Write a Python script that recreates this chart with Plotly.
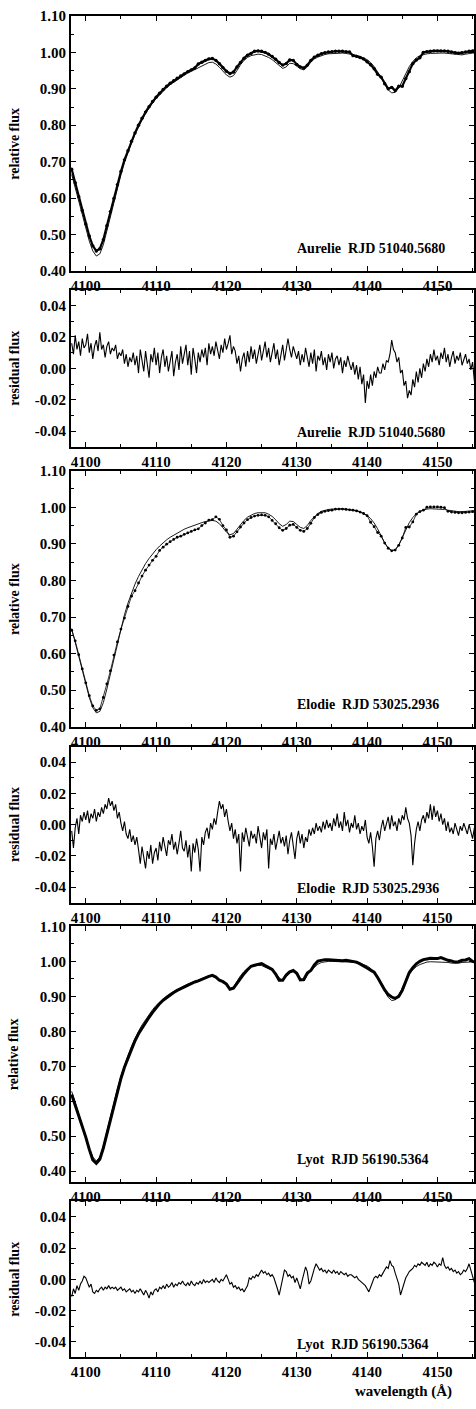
import numpy as np
import plotly.graph_objects as go

# ---------------- data ----------------
FLUX_WL_START, FLUX_WL_STEP = 4098.0, 0.5
RES_WL_START, RES_WL_STEP = 4098.0, 0.25

aurelie_model = [
    0.665, 0.628, 0.590, 0.552, 0.515, 0.482, 0.455, 0.441,
    0.447, 0.472, 0.510, 0.550, 0.590, 0.628, 0.664, 0.697,
    0.726, 0.752, 0.775, 0.796, 0.815, 0.832, 0.847, 0.861,
    0.873, 0.884, 0.894, 0.903, 0.911, 0.918, 0.925, 0.931,
    0.937, 0.943, 0.948, 0.953, 0.958, 0.963, 0.968, 0.972,
    0.973, 0.968, 0.959, 0.948, 0.938, 0.932, 0.936, 0.950,
    0.966, 0.978, 0.986, 0.991, 0.994, 0.995, 0.994, 0.991,
    0.986, 0.980, 0.972, 0.963, 0.956, 0.960, 0.970, 0.969,
    0.962, 0.955, 0.952, 0.960, 0.973, 0.982, 0.987, 0.991,
    0.994, 0.996, 0.997, 0.998, 0.998, 0.998, 0.997, 0.996,
    0.994, 0.992, 0.989, 0.985, 0.980, 0.972, 0.961, 0.946,
    0.929, 0.911, 0.897, 0.889, 0.890, 0.902, 0.921, 0.942,
    0.961, 0.975, 0.985, 0.991, 0.994, 0.996, 0.997, 0.998,
    0.998, 0.998, 0.998, 0.997, 0.995, 0.993, 0.992, 0.993,
    0.995, 0.997, 0.998, 0.998,
]
aurelie_obs = [
    0.679, 0.642, 0.604, 0.566, 0.529, 0.496, 0.469, 0.455,
    0.461, 0.486, 0.524, 0.563, 0.599, 0.637, 0.673, 0.705,
    0.730, 0.756, 0.779, 0.800, 0.819, 0.836, 0.851, 0.865,
    0.877, 0.888, 0.898, 0.907, 0.915, 0.922, 0.929, 0.935,
    0.941, 0.947, 0.952, 0.957, 0.968, 0.973, 0.978, 0.982,
    0.983, 0.978, 0.969, 0.958, 0.948, 0.942, 0.946, 0.960,
    0.972, 0.984, 0.992, 0.997, 1.003, 1.004, 1.003, 1.000,
    0.995, 0.989, 0.981, 0.972, 0.965, 0.969, 0.979, 0.978,
    0.967, 0.960, 0.957, 0.965, 0.978, 0.987, 0.992, 0.996,
    0.999, 1.001, 1.002, 1.003, 1.003, 1.003, 1.002, 1.001,
    0.991, 0.989, 0.986, 0.982, 0.974, 0.966, 0.955, 0.940,
    0.932, 0.914, 0.900, 0.904, 0.895, 0.907, 0.907, 0.928,
    0.947, 0.969, 0.979, 0.985, 1.000, 1.002, 1.003, 1.004,
    1.004, 1.004, 1.004, 1.003, 1.001, 0.999, 0.998, 0.999,
    1.001, 1.003, 1.004, 1.004,
]
aurelie_resid = [
    0.016, 0.009, 0.021, 0.012, 0.017, 0.008, 0.019, 0.013,
    0.015, 0.022, 0.010, 0.016, 0.006, 0.014, 0.018, 0.011,
    0.023, 0.012, 0.015, 0.007, 0.014, 0.017, 0.009, 0.013,
    0.011, 0.015, 0.006, 0.010, 0.008, 0.012, 0.003, 0.009,
    0.001, 0.007, 0.004, 0.010, 0.002, 0.008, -0.003, 0.012,
    0.005, -0.002, 0.011, 0.003, -0.006, 0.009, 0.004, 0.013,
    0.002, 0.010, -0.003, 0.007, 0.012, 0.001, 0.008, -0.002,
    0.006, 0.011, -0.005, 0.004, 0.009, -0.001, 0.014, 0.003,
    0.009, 0.015, 0.002, 0.011, -0.004, 0.013, 0.006, -0.003,
    0.010, 0.004, 0.012, 0.007, 0.013, 0.002, 0.016, 0.009,
    0.014, 0.008, 0.017, 0.011, 0.006, 0.015, 0.010, 0.019,
    0.012, 0.016, 0.021, 0.009, 0.014, 0.011, 0.003, 0.008,
    -0.002, 0.006, 0.010, 0.001, 0.011, 0.004, 0.014, 0.006,
    0.012, 0.003, 0.009, 0.015, 0.005, 0.011, 0.017, 0.007,
    0.013, 0.004, 0.010, 0.016, 0.006, 0.012, 0.002, 0.009,
    0.015, 0.005, 0.011, 0.019, 0.012, 0.007, 0.014, 0.010,
    0.006, 0.011, 0.002, 0.009, 0.004, 0.013, 0.007, 0.001,
    0.010, 0.003, 0.012, -0.002, 0.008, 0.005, 0.011, 0.002,
    0.007, -0.001, 0.009, 0.004, 0.010, 0.000, 0.006, 0.008,
    0.002, 0.007, -0.003, 0.005, 0.001, 0.008, 0.003, -0.001,
    0.004, -0.004, 0.002, -0.007, 0.001, -0.010, -0.004, -0.022,
    -0.008, -0.013, -0.004, -0.011, -0.002, -0.006, 0.001, -0.003,
    -0.003, 0.003, -0.001, 0.005, 0.004, 0.009, 0.018, 0.012,
    0.010, 0.004, 0.007, -0.003, -0.001, -0.011, -0.008, -0.019,
    -0.014, -0.017, -0.007, -0.012, -0.002, -0.009, 0.000, -0.006,
    0.003, -0.002, 0.006, 0.001, 0.009, 0.004, 0.012, 0.005,
    0.008, 0.002, 0.010, 0.006, 0.013, 0.004, 0.009, 0.001,
    0.007, 0.011, 0.003, 0.008, 0.005, 0.010, 0.002, 0.006,
    0.009, 0.003, 0.006, -0.001, 0.004, -0.008, 0.002, 0.005,
]

elodie_model = [
    0.668, 0.630, 0.592, 0.553, 0.515, 0.480, 0.452, 0.438,
    0.442, 0.466, 0.503, 0.545, 0.588, 0.630, 0.670, 0.706,
    0.738, 0.766, 0.790, 0.811, 0.830, 0.846, 0.860, 0.873,
    0.884, 0.894, 0.903, 0.911, 0.918, 0.924, 0.930, 0.935,
    0.940, 0.944, 0.948, 0.952, 0.955, 0.958, 0.961, 0.963,
    0.964, 0.962, 0.955, 0.944, 0.932, 0.925, 0.928, 0.940,
    0.953, 0.964, 0.973, 0.979, 0.983, 0.985, 0.986, 0.985,
    0.981, 0.975, 0.966, 0.955, 0.948, 0.953, 0.962, 0.961,
    0.953, 0.945, 0.942, 0.950, 0.964, 0.975, 0.983, 0.989,
    0.992, 0.994, 0.995, 0.996, 0.996, 0.996, 0.995, 0.994,
    0.993, 0.991, 0.988, 0.984, 0.978, 0.969, 0.957, 0.941,
    0.922, 0.903, 0.889, 0.882, 0.884, 0.897, 0.917, 0.939,
    0.958, 0.972, 0.982, 0.989, 0.993, 0.995, 0.996, 0.996,
    0.996, 0.995, 0.994, 0.992, 0.990, 0.989, 0.988, 0.988,
    0.989, 0.990, 0.991, 0.991,
]
elodie_obs = [
    0.664, 0.635, 0.597, 0.558, 0.520, 0.485, 0.457, 0.445,
    0.449, 0.480, 0.517, 0.553, 0.596, 0.632, 0.667, 0.697,
    0.729, 0.757, 0.772, 0.793, 0.812, 0.828, 0.842, 0.855,
    0.866, 0.882, 0.891, 0.899, 0.906, 0.912, 0.918, 0.921,
    0.926, 0.930, 0.934, 0.938, 0.941, 0.950, 0.957, 0.965,
    0.966, 0.974, 0.967, 0.950, 0.938, 0.918, 0.921, 0.933,
    0.946, 0.957, 0.966, 0.972, 0.976, 0.978, 0.979, 0.978,
    0.974, 0.964, 0.955, 0.944, 0.937, 0.942, 0.951, 0.953,
    0.945, 0.937, 0.934, 0.942, 0.956, 0.972, 0.980, 0.986,
    0.989, 0.991, 0.992, 0.995, 0.995, 0.995, 0.994, 0.993,
    0.992, 0.990, 0.987, 0.983, 0.977, 0.959, 0.947, 0.931,
    0.921, 0.902, 0.888, 0.881, 0.883, 0.896, 0.916, 0.945,
    0.946, 0.960, 0.981, 0.988, 0.992, 1.000, 1.001, 1.001,
    1.001, 1.000, 0.999, 0.989, 0.987, 0.986, 0.985, 0.985,
    0.986, 0.987, 0.988, 0.988,
]
elodie_resid = [
    -0.004, -0.015, -0.002, 0.004, -0.006, 0.006, 0.002, 0.008,
    0.003, 0.009, 0.001, 0.007, 0.004, 0.010, 0.002, 0.008,
    0.005, 0.011, 0.007, 0.013, 0.010, 0.017, 0.012, 0.015,
    0.009, 0.013, 0.004, 0.008, 0.001, -0.004, 0.002, -0.006,
    -0.009, -0.003, -0.011, -0.007, -0.013, -0.008, -0.016, -0.025,
    -0.014, -0.021, -0.028, -0.017, -0.022, -0.013, -0.025, -0.018,
    -0.015, -0.023, -0.011, -0.017, -0.008, -0.014, -0.020, -0.010,
    -0.013, -0.006, -0.016, -0.011, -0.019, -0.012, -0.004, -0.015,
    -0.017, -0.010, -0.021, -0.013, -0.030, -0.012, -0.018, -0.009,
    -0.016, -0.030, -0.008, -0.013, -0.005, -0.002, -0.009, 0.001,
    -0.003, 0.004, 0.000, 0.008, 0.015, 0.010, 0.013, 0.005,
    0.010, 0.002, -0.004, 0.001, -0.009, -0.003, -0.012, -0.006,
    -0.030, -0.005, -0.011, -0.002, -0.008, -0.014, -0.004, -0.009,
    -0.006, -0.012, -0.001, -0.008, -0.015, -0.005, -0.010, -0.003,
    -0.028, -0.009, -0.013, -0.006, -0.016, -0.010, -0.004, -0.012,
    -0.008, -0.014, -0.007, -0.019, -0.010, -0.005, -0.013, -0.022,
    -0.009, -0.004, -0.012, -0.006, -0.015, -0.008, -0.011, -0.003,
    -0.007, -0.002, -0.006, 0.001, -0.004, -0.001, -0.005, 0.002,
    -0.003, 0.003, -0.002, 0.001, -0.004, 0.004, -0.001, 0.007,
    -0.002, 0.002, -0.004, 0.008, -0.001, 0.003, -0.005, 0.001,
    -0.002, 0.006, -0.003, 0.001, -0.006, -0.001, -0.004, 0.003,
    -0.008, -0.012, -0.005, -0.014, -0.027, -0.009, -0.004, -0.010,
    -0.002, 0.003, -0.004, 0.001, 0.005, -0.003, 0.006, -0.001,
    0.002, -0.004, 0.004, 0.000, 0.006, 0.003, 0.011, 0.004,
    0.001, -0.007, -0.026, -0.012, -0.003, 0.002, -0.004, 0.003,
    0.006, 0.001, 0.008, 0.004, 0.013, 0.003, 0.012, 0.005,
    0.009, 0.002, 0.007, 0.000, 0.004, -0.004, 0.002, -0.005,
    -0.002, -0.006, 0.001, -0.003, -0.007, -0.001, -0.004, 0.001,
    -0.003, -0.006, 0.000, -0.004, -0.009, -0.002, -0.011, -0.006,
]

lyot_model = [
    0.628, 0.595, 0.562, 0.530, 0.498, 0.466, 0.440, 0.429,
    0.440, 0.471, 0.513, 0.556, 0.597, 0.636, 0.671, 0.703,
    0.731, 0.757, 0.780, 0.800, 0.818, 0.834, 0.849, 0.862,
    0.874, 0.884, 0.893, 0.901, 0.908, 0.914, 0.920, 0.925,
    0.930, 0.935, 0.939, 0.943, 0.946, 0.950, 0.954, 0.958,
    0.960, 0.956, 0.947, 0.942, 0.932, 0.923, 0.927, 0.943,
    0.959, 0.971, 0.980, 0.985, 0.988, 0.989, 0.988, 0.983,
    0.979, 0.975, 0.966, 0.953, 0.945, 0.955, 0.967, 0.972,
    0.965, 0.951, 0.944, 0.960, 0.975, 0.983, 0.992, 0.997,
    0.999, 1.000, 1.000, 1.000, 1.000, 0.999, 0.999, 0.998,
    0.997, 0.996, 0.994, 0.991, 0.987, 0.980, 0.968, 0.952,
    0.933, 0.913, 0.897, 0.888, 0.890, 0.903, 0.923, 0.945,
    0.963, 0.976, 0.985, 0.991, 0.995, 0.998, 0.999, 0.999,
    0.999, 0.999, 0.998, 0.997, 0.995, 0.994, 0.995, 0.997,
    0.998, 0.999, 0.999, 0.999,
]
lyot_obs = [
    0.619, 0.589, 0.556, 0.530, 0.497, 0.462, 0.432, 0.422,
    0.434, 0.466, 0.507, 0.550, 0.591, 0.630, 0.665, 0.697,
    0.724, 0.750, 0.773, 0.793, 0.810, 0.826, 0.840, 0.854,
    0.868, 0.879, 0.889, 0.897, 0.904, 0.911, 0.917, 0.922,
    0.927, 0.932, 0.937, 0.941, 0.944, 0.949, 0.952, 0.957,
    0.960, 0.955, 0.946, 0.942, 0.935, 0.920, 0.923, 0.938,
    0.952, 0.965, 0.976, 0.986, 0.989, 0.992, 0.994, 0.988,
    0.983, 0.977, 0.964, 0.946, 0.946, 0.961, 0.970, 0.974,
    0.966, 0.947, 0.948, 0.967, 0.974, 0.990, 1.001, 1.004,
    1.005, 1.005, 1.004, 1.005, 1.003, 1.002, 1.003, 1.001,
    0.999, 0.998, 0.993, 0.988, 0.981, 0.975, 0.969, 0.954,
    0.935, 0.918, 0.905, 0.898, 0.894, 0.900, 0.917, 0.944,
    0.968, 0.982, 0.993, 1.000, 1.005, 1.007, 1.009, 1.008,
    1.008, 1.011, 1.006, 1.003, 1.001, 0.998, 0.999, 1.003,
    1.004, 1.008, 1.000, 0.998,
]
lyot_resid = [
    -0.011, -0.006, -0.009, -0.004, -0.007, -0.003, -0.001, 0.002,
    0.001, -0.002, -0.005, -0.003, -0.008, -0.009, -0.007, -0.008,
    -0.006, -0.005, -0.007, -0.005, -0.006, -0.004, -0.006, -0.005,
    -0.006, -0.005, -0.007, -0.006, -0.005, -0.007, -0.006, -0.008,
    -0.007, -0.006, -0.008, -0.007, -0.009, -0.007, -0.008, -0.006,
    -0.008, -0.010, -0.007, -0.009, -0.012, -0.008, -0.010, -0.007,
    -0.006, -0.008, -0.005, -0.006, -0.004, -0.006, -0.003, -0.005,
    -0.004, -0.002, -0.005, -0.003, -0.004, -0.002, -0.003, -0.001,
    -0.003, -0.004, -0.002, -0.004, -0.001, -0.003, -0.004, -0.002,
    -0.003, -0.001, -0.003, 0.000, -0.002, -0.001, -0.002, -0.001,
    0.000, -0.002, 0.001, -0.001, -0.002, 0.000, -0.001, 0.001,
    0.003, 0.000, -0.003, -0.002, -0.005, -0.004, -0.006, -0.005,
    -0.007, -0.006, -0.008, -0.006, -0.004, 0.001, 0.000, 0.002,
    0.001, 0.003, 0.002, 0.004, 0.006, 0.004, 0.005, 0.003,
    0.004, 0.002, 0.003, 0.001, -0.002, -0.006, -0.010, -0.004,
    0.002, 0.006, 0.005, 0.002, 0.003, 0.001, 0.002, -0.002,
    0.001, -0.003, -0.006, -0.001, 0.003, 0.008, 0.005, -0.003,
    -0.001, 0.004, 0.007, 0.010, 0.008, 0.006, 0.007, 0.005,
    0.006, 0.004, 0.006, 0.005, 0.004, 0.006, 0.004, 0.005,
    0.003, 0.005, 0.004, 0.003, 0.004, 0.002, 0.003, 0.003,
    0.002, 0.001, 0.002, 0.000, -0.001, -0.002, -0.003, -0.004,
    -0.006, -0.008, -0.005, -0.002, 0.001, 0.002, 0.001, 0.003,
    0.002, 0.004, 0.006, 0.008, 0.007, 0.012, 0.009, 0.008,
    0.004, 0.001, -0.003, -0.010, -0.006, -0.002, 0.001, 0.003,
    0.005, 0.006, 0.007, 0.009, 0.008, 0.010, 0.009, 0.011,
    0.010, 0.009, 0.011, 0.008, 0.010, 0.009, 0.011, 0.010,
    0.008, 0.010, 0.009, 0.014, 0.009, 0.007, 0.008, 0.006,
    0.007, 0.005, 0.006, 0.004, 0.005, 0.003, 0.004, 0.006,
    0.005, 0.007, 0.010, 0.006, 0.002, -0.002, 0.001, -0.003,
]

labels = ["Aurelie\u00a0\u00a0RJD 51040.5680",
          "Elodie\u00a0\u00a0RJD 53025.2936",
          "Lyot\u00a0\u00a0RJD 56190.5364"]

x_ticks = [4100, 4110, 4120, 4130, 4140, 4150]
flux_ticks = [0.40, 0.50, 0.60, 0.70, 0.80, 0.90, 1.00, 1.10]
resid_ticks = [-0.04, -0.02, 0.00, 0.02, 0.04]

# ---------------- layout helpers ----------------
W, H = 476, 1409
LEFT = 71
panels_px = [(8, 266), (285, 444), (468, 727), (747, 905), (929, 1187), (1207, 1365)]
XRANGE = [4097.9, 4155.2]
FONT = "Liberation Serif"

def wl(arr, start, step):
    return start + step * np.arange(len(arr))

fig = go.Figure()

series = [
    ("flux", aurelie_model, aurelie_obs, "band"),
    ("res", aurelie_resid),
    ("flux", elodie_model, elodie_obs, "dots"),
    ("res", elodie_resid),
    ("flux", lyot_model, lyot_obs, "thick"),
    ("res", lyot_resid),
]

for i, s in enumerate(series):
    k = "" if i == 0 else str(i + 1)
    xa, ya = "x" + k, "y" + k
    if s[0] == "flux":
        model, obs, style = s[1], s[2], s[3]
        fx = wl(obs, FLUX_WL_START, FLUX_WL_STEP)
        if style == "band":
            tr = dict(mode="lines+markers", line=dict(color="black", width=2.2),
                      marker=dict(color="black", size=3.4))
        elif style == "dots":
            tr = dict(mode="lines+markers", line=dict(color="black", width=0.8),
                      marker=dict(color="black", size=2.8))
        else:
            tr = dict(mode="lines", line=dict(color="black", width=3))
        fig.add_trace(go.Scatter(x=fx, y=obs, xaxis=xa, yaxis=ya,
                                 showlegend=False, hoverinfo="skip", **tr))
        fig.add_trace(go.Scatter(
            x=wl(model, FLUX_WL_START, FLUX_WL_STEP), y=model, mode="lines",
            xaxis=xa, yaxis=ya, line=dict(color="black", width=0.9),
            showlegend=False, hoverinfo="skip"))
    else:
        res = s[1]
        fig.add_trace(go.Scatter(
            x=wl(res, RES_WL_START, RES_WL_STEP), y=res, mode="lines",
            xaxis=xa, yaxis=ya, line=dict(color="black", width=1.1),
            showlegend=False, hoverinfo="skip"))

tickfont = dict(family=FONT, size=15, color="black", weight="bold")
layout = dict(
    width=W, height=H, margin=dict(l=LEFT, r=0, t=0, b=0),
    paper_bgcolor="white", plot_bgcolor="white",
    font=dict(family=FONT, color="black"),
)

annotations = []
for i, (top, bot) in enumerate(panels_px):
    k = "" if i == 0 else str(i + 1)
    dom = [1 - bot / H, 1 - top / H]
    is_flux = (i % 2 == 0)
    layout["xaxis" + k] = dict(
        domain=[0, 1], anchor="y" + k, range=XRANGE,
        tickmode="array", tickvals=x_ticks, ticktext=[str(t) for t in x_ticks],
        ticks="inside", ticklen=5, tickwidth=1, tickcolor="black",
        minor=dict(dtick=5, tick0=4100, ticks="inside", ticklen=3, tickcolor="black"),
        showline=True, linewidth=2, linecolor="black", mirror="ticks",
        showgrid=False, zeroline=False, tickfont=tickfont,
    )
    if is_flux:
        yr = [0.37, 1.10] if i == 4 else [0.40, 1.10]
        yt, mdt = flux_ticks, 0.05
        title = "relative flux"
    else:
        yr = [-0.05, 0.05]
        yt, mdt = resid_ticks, 0.01
        title = "residual flux"
    layout["yaxis" + k] = dict(
        domain=dom, anchor="x" + k, range=yr,
        tickmode="array", tickvals=yt, ticktext=["{:.2f}".format(v) for v in yt],
        ticks="inside", ticklen=5, tickwidth=1, tickcolor="black",
        minor=dict(dtick=mdt, tick0=0, ticks="inside", ticklen=3, tickcolor="black"),
        showline=True, linewidth=2, linecolor="black", mirror="ticks",
        showgrid=False, zeroline=False, tickfont=tickfont,
    )
    annotations.append(dict(
        text=title, textangle=-90, xref="paper", yref="paper",
        x=(14 - LEFT) / (W - LEFT), y=(dom[0] + dom[1]) / 2,
        xanchor="center", yanchor="middle", showarrow=False,
        font=dict(family=FONT, size=14, color="black", weight="bold")))
    lab = labels[i // 2]
    ly = {0: 0.462, 1: -0.0405, 2: 0.460, 3: -0.041, 4: 0.433, 5: -0.0415}[i]
    annotations.append(dict(
        text=lab, xref="x" + k, yref="y" + k, x=4129.7, y=ly,
        xanchor="left", yanchor="middle", showarrow=False,
        font=dict(family=FONT, size=14, color="black", weight="bold")))

annotations.append(dict(
    text="wavelength (Å)", xref="paper", yref="paper",
    x=(456 - LEFT) / (W - LEFT), y=1 - 1399 / H,
    xanchor="right", yanchor="middle", showarrow=False,
    font=dict(family=FONT, size=15, color="black", weight="bold")))

layout["annotations"] = annotations
fig.update_layout(**layout)
fig.write_html("out.html")
